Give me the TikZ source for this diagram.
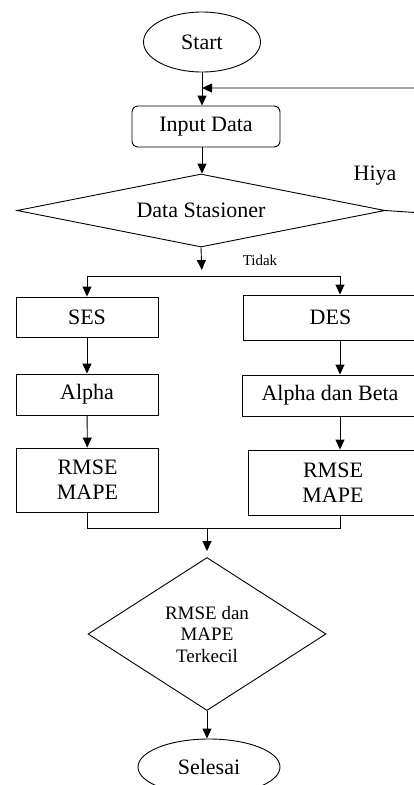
\documentclass[tikz,border=0pt]{standalone}
\usepackage{fontspec}
\setmainfont{Liberation Serif}
\usetikzlibrary{arrows.meta}
\usetikzlibrary{shapes.geometric}
\usetikzlibrary{positioning}

\begin{document}
\begin{tikzpicture}[x=1pt, y=-1pt, >={Triangle[length=10pt,width=9pt]}, line width=0.9pt,
    every node/.style={font=\fontsize{22}{25}\selectfont},
    terminal/.style={draw, ellipse, minimum width=117pt, minimum height=60pt},
    inputbox/.style={draw, rounded corners=6pt, minimum width=148pt, minimum height=41pt},
    procbox/.style={draw, minimum width=142pt, minimum height=41pt, align=center},
    decision/.style={draw, diamond, inner sep=0pt, align=center}]
      \clip (0,0) rectangle (414,785);
      \node[terminal] (start) at (202,42) {Start};
      \node[inputbox] (input) at (206,126.5) {Input Data};
      \node[decision, aspect=5, minimum width=368pt, minimum height=73pt] (stasioner) at (201,210.5) {Data Stasioner};
      \node (hiya) at (375,176) {Hiya};
      \node[font=\fontsize{15}{18}\selectfont] (tidak) at (260,260) {Tidak};
      % left column
      \node[procbox, minimum height=40pt] (ses) at (87,317) {SES};
      \node[procbox] (alpha) at (87,394.5) {Alpha};
      \node[procbox, minimum height=64pt] (rmseses) at (87.5,480) {RMSE\\MAPE};
      % right column
      \node[procbox, minimum width=175pt, minimum height=45pt] (des) at (330.5,317.5) {DES};
      \node[procbox, minimum width=176pt] (alphabeta) at (330,395.5) {Alpha dan Beta};
      \node[procbox, minimum width=170pt, minimum height=65pt] (rmsedes) at (333,482.5) {RMSE\\MAPE};
      \node[decision, aspect=1.5, minimum width=238pt, minimum height=153pt, font=\fontsize{19}{21.5}\selectfont] (terkecil) at (207,634) {RMSE dan\\MAPE\\Terkecil};
      \node[terminal, minimum width=142pt, minimum height=56pt] (selesai) at (209,767) {Selesai};
      \coordinate (loopin) at (202,88);
      \coordinate (loopright) at (422,213);
      \coordinate (rcol) at (340,0);
      \coordinate (split) at (202,276);
      \coordinate (merge) at (207,528);
      \draw[->] (start.south) -- (start.south |- input.north);
      \draw[->] (stasioner.east) -- (loopright) -- (loopright |- loopin) -- (loopin);
      \draw[->] (start.south |- input.south) -- (start.south |- stasioner.north);
      \draw[->, shorten >=6pt] (stasioner.south) -- (split);
      \draw (ses.north |- split) -- (rcol |- split);
      \draw[->] (ses.north |- split) -- (ses.north);
      \draw[->] (rcol |- split) -- (rcol |- des.north);
      \draw[->] (ses) -- (alpha);
      \draw[->] (alpha) -- (rmseses);
      \draw[->] (rcol |- des.south) -- (rcol |- alphabeta.north);
      \draw[->] (rcol |- alphabeta.south) -- (rcol |- rmsedes.north);
      \draw (rmseses.south) -- (rmseses.south |- merge) -- (rcol |- merge) -- (rcol |- rmsedes.south);
      \draw[->, shorten >=6pt] (merge) -- (terkecil.north);
      \draw[->] (terkecil.south) -- (terkecil.south |- selesai.north);
    \end{tikzpicture}
\end{document}
